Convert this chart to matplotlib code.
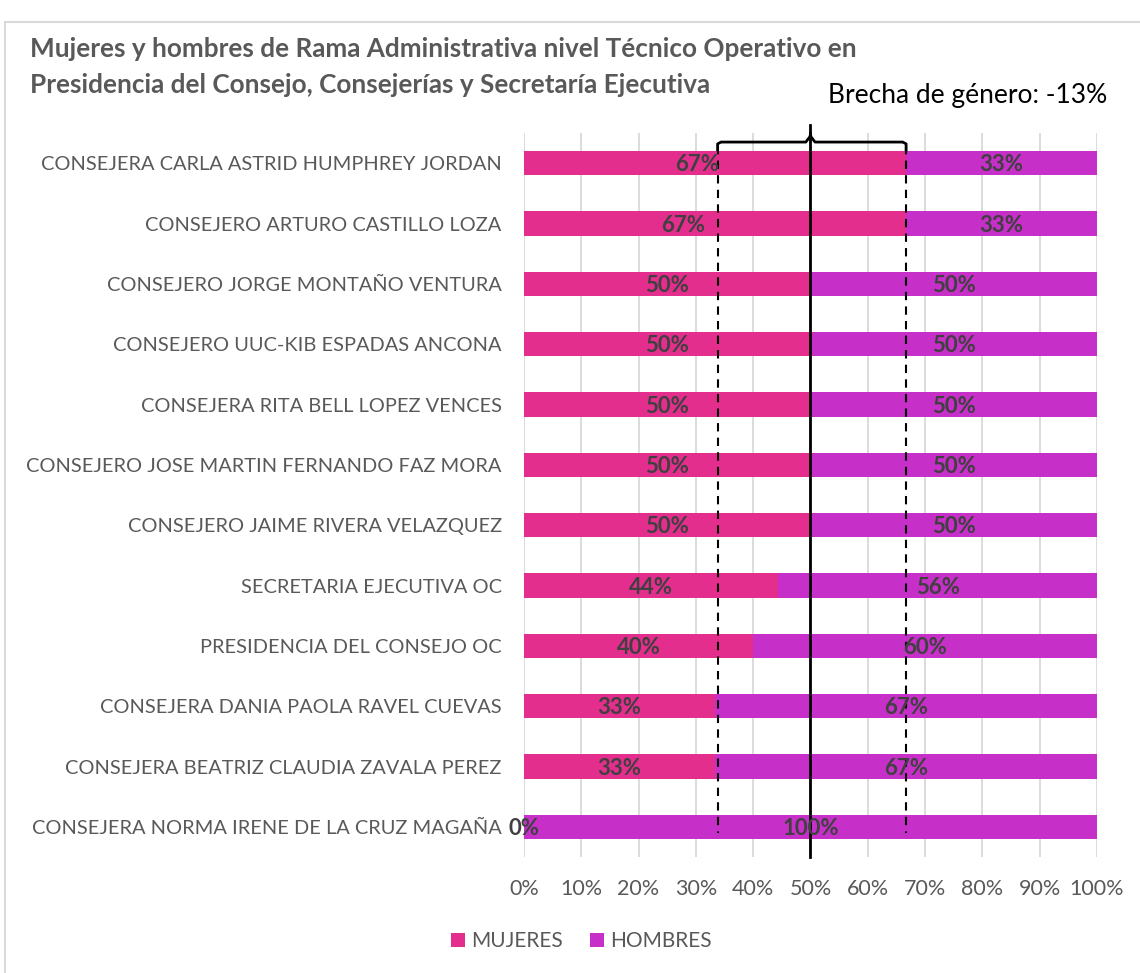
import matplotlib
matplotlib.use("Agg")
import matplotlib.pyplot as plt
from matplotlib.patches import Rectangle
import numpy as np

categories = [
    "CONSEJERA CARLA ASTRID HUMPHREY JORDAN",
    "CONSEJERO ARTURO CASTILLO LOZA",
    "CONSEJERO JORGE MONTAÑO VENTURA",
    "CONSEJERO UUC-KIB ESPADAS ANCONA",
    "CONSEJERA RITA BELL LOPEZ VENCES",
    "CONSEJERO JOSE MARTIN FERNANDO FAZ MORA",
    "CONSEJERO JAIME RIVERA VELAZQUEZ",
    "SECRETARIA EJECUTIVA OC",
    "PRESIDENCIA DEL CONSEJO OC",
    "CONSEJERA DANIA PAOLA RAVEL CUEVAS",
    "CONSEJERA BEATRIZ CLAUDIA ZAVALA PEREZ",
    "CONSEJERA NORMA IRENE DE LA CRUZ MAGAÑA",
]
mujeres = [0.667, 0.667, 0.50, 0.50, 0.50, 0.50, 0.50, 0.444, 0.40, 0.333, 0.333, 0.0]
hombres = [0.333, 0.333, 0.50, 0.50, 0.50, 0.50, 0.50, 0.556, 0.60, 0.667, 0.667, 1.0]
mujeres_labels = ["67%", "67%", "50%", "50%", "50%", "50%", "50%", "44%", "40%", "33%", "33%", "0%"]
hombres_labels = ["33%", "33%", "50%", "50%", "50%", "50%", "50%", "56%", "60%", "67%", "67%", "100%"]
xticks = [0, 0.1, 0.2, 0.3, 0.4, 0.5, 0.6, 0.7, 0.8, 0.9, 1.0]
xtick_labels = ["0%", "10%", "20%", "30%", "40%", "50%", "60%", "70%", "80%", "90%", "100%"]
gap_low = 0.338
gap_high = 0.667
gap_text = "Brecha de género: -13%"
title = ("Mujeres y hombres de Rama Administrativa nivel Técnico Operativo en\n"
         "Presidencia del Consejo, Consejerías y Secretaría Ejecutiva")

C_MUJ = "#E32E8D"
C_HOM = "#C62FC8"
GRAY = "#595959"
LBL = "#404040"
FONT = ["Lato", "DejaVu Sans"]
plt.rcParams["font.family"] = FONT

fig = plt.figure(figsize=(11.4, 9.73), dpi=100)
ax = fig.add_axes([0.4596, 0.1192, 0.5026, 0.7441])

y = np.arange(len(categories))
ax.barh(y, mujeres, height=0.4, color=C_MUJ, label="MUJERES", zorder=2)
ax.barh(y, hombres, left=mujeres, height=0.4, color=C_HOM, label="HOMBRES", zorder=2)

ax.set_xlim(0, 1)
ax.set_ylim(len(categories) - 0.5, -0.5)
ax.set_xticks(xticks)
ax.set_xticklabels(xtick_labels, fontsize=15.5, color=GRAY)
ax.set_yticks(y)
ax.set_yticklabels(categories, fontsize=14.4, color=GRAY)
ax.tick_params(axis="both", length=0)
ax.tick_params(axis="x", pad=16)
ax.tick_params(axis="y", pad=16)
for s in ax.spines.values():
    s.set_visible(False)
ax.grid(axis="x", color="#D9D9D9", linewidth=1.3, zorder=0)
ax.set_axisbelow(True)

# data labels
for i in range(len(categories)):
    xm = mujeres[i] / 2
    if i == 0:
        xm = 0.302
    elif i == 1:
        xm = 0.277
    ax.text(xm, i + 0.03, mujeres_labels[i], ha="center", va="center", fontsize=16,
            fontweight="bold", color=LBL, zorder=5)
    xh = mujeres[i] + hombres[i] / 2
    ax.text(xh, i + 0.03, hombres_labels[i], ha="center", va="center", fontsize=16,
            fontweight="bold", color=LBL, zorder=5)

# reference lines
n = len(categories)
ax.plot([0.5, 0.5], [-0.5, n - 0.5], color="black", lw=2, clip_on=False, zorder=4)
for gx in (gap_low, gap_high):
    ax.plot([gx, gx], [-0.28, n - 0.9], color="black", lw=1.5, ls=(0, (4, 3)),
            clip_on=False, zorder=4)
# bracket
yb = -0.35
ax.plot([gap_low, gap_low, gap_low + 0.006, 0.492, 0.5],
        [-0.22, yb + 0.03, yb, yb, -0.45],
        color="black", lw=2, clip_on=False, zorder=4, solid_joinstyle="round")
ax.plot([0.5, 0.508, gap_high - 0.006, gap_high, gap_high],
        [-0.45, yb, yb, yb + 0.03, -0.22],
        color="black", lw=2, clip_on=False, zorder=4, solid_joinstyle="round")
ax.plot([0.5, 0.5], [-0.45, -0.64], color="black", lw=2, clip_on=False, zorder=4)

fig.text(0.726, 0.902, gap_text, fontsize=19, color="black", ha="left", va="center")
fig.text(0.026, 0.931, title, fontsize=18.8, fontweight="bold", color=GRAY,
         ha="left", va="center", linespacing=1.6)

leg = fig.legend(loc="center", bbox_to_anchor=(0.51, 0.033), ncol=2, frameon=False,
                 fontsize=15, handlelength=0.65, handleheight=0.65, columnspacing=1.3,
                 handletextpad=0.3)
for t in leg.get_texts():
    t.set_color(GRAY)

fig.patches.append(Rectangle((0.0045, -0.01), 1.0, 0.9985 - 0.0115, transform=fig.transFigure,
                             fill=False, edgecolor="#D9D9D9", lw=1.5))

fig.savefig("out.png", dpi=100)
